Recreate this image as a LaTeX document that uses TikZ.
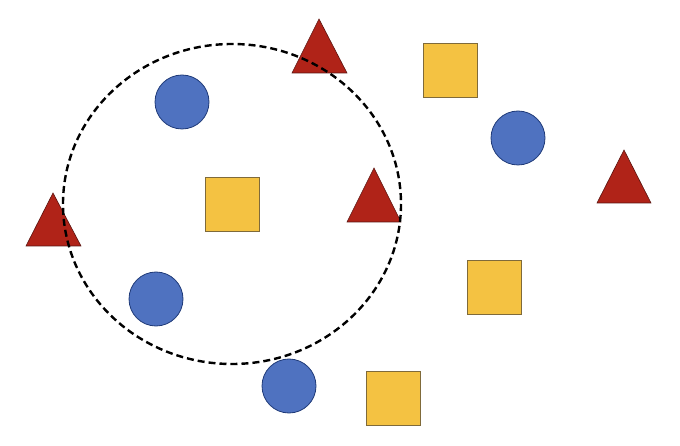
\documentclass[tikz,border=0pt]{standalone}
\definecolor{cblue}{HTML}{4F72C0}
\definecolor{cblueedge}{HTML}{1F3A78}
\definecolor{cyellow}{HTML}{F4C242}
\definecolor{cyellowedge}{HTML}{7F6A3A}
\definecolor{cred}{HTML}{B02318}
\definecolor{crededge}{HTML}{5A1410}
\tikzset{
  bluedot/.style={circle, fill=cblue, draw=cblueedge, line width=0.8pt, minimum size=54pt, inner sep=0pt},
  yellowsq/.style={rectangle, fill=cyellow, draw=cyellowedge, line width=0.6pt, minimum size=54pt, inner sep=0pt},
  redtri/.style={fill=cred, draw=crededge, line width=0.6pt, line join=miter},
  boundary/.style={draw=black, line width=2.4pt, dash pattern=on 7pt off 4pt}
}
\begin{document}
\begin{tikzpicture}[x=1pt,y=-1pt]
\useasboundingbox (0,0) rectangle (680,446);
% circles
\node[bluedot] (b1) at (182,102) {};
\node[bluedot] (b2) at (518,138) {};
\node[bluedot] (b3) at (156,299) {};
\node[bluedot] (b4) at (289,386) {};
% squares
\node[yellowsq] (y1) at (450,70) {};
\node[yellowsq] (y2) at (232,204) {};
\node[yellowsq] (y3) at (494,287) {};
\node[yellowsq] (y4) at (393,398) {};
% triangles
\draw[redtri] (319,19) -- (347,73) -- (292,73) -- cycle;
\draw[redtri] (374,168) -- (401,222) -- (347,222) -- cycle;
\draw[redtri] (624,150) -- (651,203) -- (597,203) -- cycle;
\draw[redtri] (53,193) -- (81,246) -- (26,246) -- cycle;
% dashed boundary
\draw[boundary] (232,204) ellipse [x radius=169, y radius=160];
\end{tikzpicture}
\end{document}
